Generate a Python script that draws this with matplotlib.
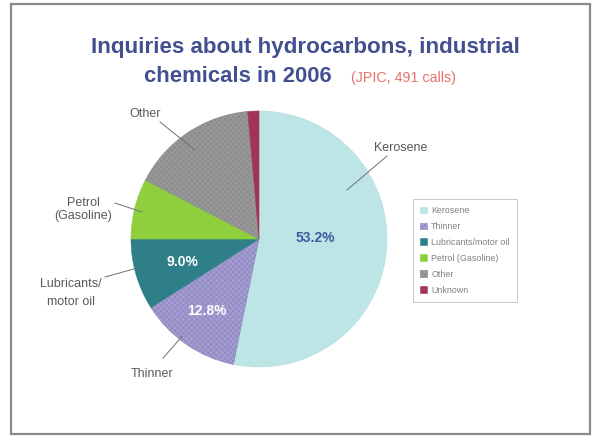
import matplotlib.pyplot as plt
from matplotlib.patches import Rectangle

plt.rcParams['font.family'] = ['Liberation Sans', 'DejaVu Sans']
plt.rcParams['hatch.linewidth'] = 0.5

# --- Datos ---
categorias = ['Kerosene', 'Thinner', 'Lubricants/motor oil', 'Petrol (Gasoline)', 'Other', 'Unknown']
porcentajes = [53.2, 12.8, 9.0, 7.6, 16.0, 1.4]
colores = ['#bde5e6', '#a39dd2', '#2e7f88', '#8fcf3e', '#989898', '#a3335d']
bordes = ['#b2dcdd', '#8e87c0', '#2e7f88', '#8fcf3e', '#8a8a8a', '#a3335d']
tramas = [None, 'xxxxxx', None, None, 'xxxxxx', None]

etiquetas = ['Kerosene', 'Thinner', 'Lubricants/\nmotor oil', 'Petrol\n(Gasoline)', 'Other']
interlineado = [1.2, 1.2, 1.6, 1.2, 1.2]
pos_texto = [(1.11, 0.711), (-0.836, -1.055), (-1.469, -0.422), (-1.375, 0.23), (-0.89, 0.977)]
inicio_linea = [(1.00, 0.648), (-0.75, -0.93), (-1.203, -0.297), (-1.125, 0.281), (-0.773, 0.914)]
fin_linea = [(0.6875, 0.383), (-0.60, -0.76), (-0.953, -0.227), (-0.914, 0.211), (-0.50, 0.695)]

rotulos_pct = {0: ((0.44, 0.01), '#3d5c9c'), 1: ((-0.41, -0.565), 'white'), 2: ((-0.60, -0.18), 'white')}

# --- Figura ---
fig = plt.figure(figsize=(5.96, 4.36), dpi=100)
fig.patches.append(Rectangle((11 / 596, 2 / 436), 579 / 596, 430 / 436, transform=fig.transFigure,
                             fill=False, edgecolor='#8a8a8a', linewidth=1.6))

cx, cy, r = 259, 239, 128
ax = fig.add_axes([(cx - r) / 596, (436 - cy - r) / 436, 2 * r / 596, 2 * r / 436])
wedges, _ = ax.pie(porcentajes, colors=colores, startangle=90, counterclock=False, radius=1,
                   wedgeprops={'linewidth': 0.4})
for w, b, t in zip(wedges, bordes, tramas):
    w.set_edgecolor(b)
    if t:
        w.set_hatch(t)
ax.set_xlim(-1, 1)
ax.set_ylim(-1, 1)
ax.set_aspect('auto')

# Porcentajes sobre las cuñas
for i, ((x, y), c) in rotulos_pct.items():
    ax.text(x, y, f'{porcentajes[i]:.1f}%', color=c, fontsize=10, fontweight='bold',
            ha='center', va='center')

# Etiquetas con líneas guía
for txt, ls, (tx, ty), (sx, sy), (px, py) in zip(etiquetas, interlineado, pos_texto,
                                                 inicio_linea, fin_linea):
    ax.text(tx, ty, txt, fontsize=9, color='#5a5a5a', ha='center', va='center',
            linespacing=ls)
    ax.plot([sx, px], [sy, py], color='#707070', linewidth=0.7, clip_on=False)

# Leyenda
leg = fig.legend(wedges, categorias, loc='upper left', bbox_to_anchor=(413 / 596, 1 - 199 / 436),
                 fontsize=6.4, frameon=True, fancybox=False, edgecolor='#b0b0b0',
                 labelspacing=0.78, handlelength=0.8, handleheight=0.8, handletextpad=0.45,
                 borderpad=0.8, borderaxespad=0)
for t in leg.get_texts():
    t.set_color('#808080')
leg.get_frame().set_linewidth(0.6)

# Títulos
fig.text(305 / 596, 1 - 48 / 436, 'Inquiries about hydrocarbons, industrial', fontsize=16.1,
         fontweight='bold', color='#43508f', ha='center', va='center')
fig.text(332 / 596, 1 - 77 / 436, 'chemicals in 2006', fontsize=15.9,
         fontweight='bold', color='#43508f', ha='right', va='center')
fig.text(351 / 596, 1 - 78 / 436, '(JPIC, 491 calls)', fontsize=10.3,
         color='#e8706a', ha='left', va='center')

fig.savefig('out.png', dpi=100)
